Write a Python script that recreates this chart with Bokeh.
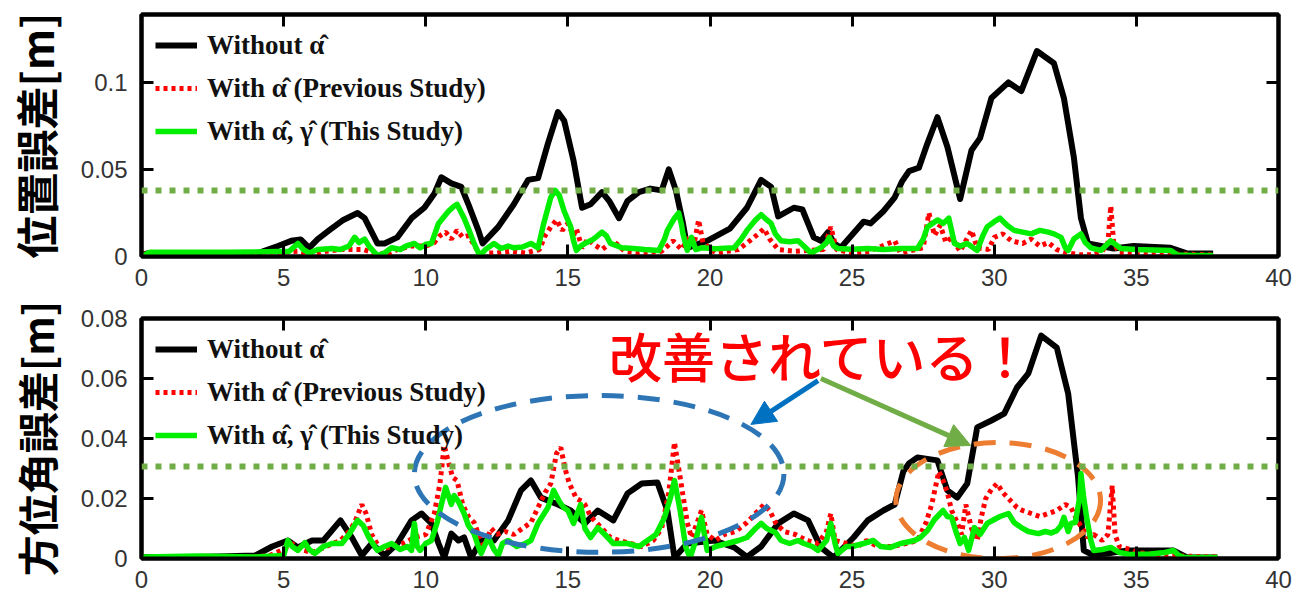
from bokeh.plotting import figure
from bokeh.layouts import column
from bokeh.models import (Range1d, FixedTicker, LinearAxis, Span, Arrow, NormalHead,
                          BoxAnnotation)
from bokeh.core.properties import value
from bokeh.embed import file_html
from bokeh.resources import INLINE

# ---------------- data ----------------
x_ticks = [0, 5, 10, 15, 20, 25, 30, 35, 40]
top_y_ticks = [0, 0.05, 0.1]
top_y_labels = {0: "0", 0.05: "0.05", 0.1: "0.1"}
bot_y_ticks = [0, 0.02, 0.04, 0.06, 0.08]
bot_y_labels = {0: "0", 0.02: "0.02", 0.04: "0.04", 0.06: "0.06", 0.08: "0.08"}

label_without = "Without \u03b1\u0302"
label_prev = "With \u03b1\u0302 (Previous Study)"
label_this = "With \u03b1\u0302, \u03b3\u0302 (This Study)"

top_ylabel = "位置誤差[m]"
bot_ylabel = "方位角誤差[m]"
note_text = "改善されている！"

top_threshold = 0.0379
bot_threshold = 0.0307

# position error: without alpha
pos_black_x = [0, 0.3, 2, 4.1, 4.8, 5.27, 5.6, 5.9, 6.2, 6.6, 7.1, 7.6, 7.85, 8.3, 8.55, 9.0, 9.5, 9.95,
               10.3, 10.55, 10.9, 11.25, 11.5, 11.85, 12.0, 12.55, 13.1, 13.6, 13.95, 14.3, 14.65, 14.87,
               15.2, 15.5, 15.8, 16.2, 16.45, 16.8, 17.1, 17.5, 17.9, 18.3, 18.55, 18.8, 19.05, 19.2,
               19.9, 20.7, 21.3, 21.8, 22.15, 22.4, 22.95, 23.25, 23.65, 23.9, 24.15, 24.37, 24.6, 25.4,
               25.65, 26.1, 26.5, 26.75, 27.0, 27.35, 27.65, 28.0, 28.35, 28.8, 29.2, 29.5, 29.9, 30.5,
               30.95, 31.5, 32.1, 32.45, 32.8, 33.05, 33.3, 34.2, 34.9, 36.2, 36.8, 37.7]
pos_black_y = [0.001, 0.002, 0.002, 0.002, 0.006, 0.009, 0.0098, 0.005, 0.010, 0.015, 0.021, 0.025, 0.022,
               0.0075, 0.0075, 0.011, 0.022, 0.028, 0.036, 0.0455, 0.042, 0.040, 0.030, 0.015, 0.0075,
               0.017, 0.030, 0.044, 0.045, 0.065, 0.083, 0.078, 0.055, 0.028, 0.030, 0.037, 0.032, 0.022,
               0.032, 0.037, 0.039, 0.038, 0.050, 0.038, 0.019, 0.005, 0.009, 0.016, 0.028, 0.044, 0.040,
               0.023, 0.028, 0.027, 0.011, 0.009, 0.014, 0.0075, 0.005, 0.020, 0.019, 0.026, 0.034, 0.043,
               0.049, 0.051, 0.065, 0.080, 0.063, 0.033, 0.061, 0.068, 0.091, 0.100, 0.095, 0.118, 0.111,
               0.091, 0.057, 0.022, 0.0075, 0.0046, 0.006, 0.005, 0.0017, 0.0017]

# position error: with alpha (previous study)
pos_red_x = [0, 4, 5.5, 6, 6.5, 7, 7.8, 8.2, 8.6, 9, 9.5, 10, 10.3, 10.5, 10.7, 10.9, 11.1, 11.3, 11.5,
             11.8, 12.1, 12.5, 13, 13.5, 14.0, 14.2, 14.4, 14.6, 14.8, 15.0, 15.2, 15.3, 15.5, 15.7, 15.9,
             16.2, 16.6, 17.0, 17.5, 18.3, 18.7, 19.0, 19.3, 19.45, 19.6, 19.75, 20.2, 21.0, 21.4, 21.7,
             21.9, 22.1, 22.4, 23, 24.0, 24.25, 24.45, 25, 25.6, 26.5, 26.7, 27.5, 27.7, 27.9, 28.1, 28.3,
             28.5, 28.8, 29.2, 29.4, 29.8, 30.0, 30.3, 30.6, 31.0, 31.3, 31.6, 31.9, 32.2, 32.6, 33.0,
             33.5, 33.8, 34.0, 34.1, 34.2, 34.4, 35, 36, 37.7]
pos_red_y = [0.0015, 0.0015, 0.003, 0.001, 0.003, 0.004, 0.004, 0.002, 0.001, 0.004, 0.006, 0.006, 0.008,
             0.012, 0.014, 0.010, 0.015, 0.011, 0.012, 0.004, 0.002, 0.002, 0.003, 0.002, 0.004, 0.012,
             0.017, 0.021, 0.015, 0.019, 0.012, 0.016, 0.005, 0.010, 0.007, 0.004, 0.009, 0.003, 0.002,
             0.003, 0.009, 0.004, 0.012, 0.008, 0.021, 0.008, 0.002, 0.004, 0.009, 0.013, 0.016, 0.010,
             0.004, 0.003, 0.004, 0.017, 0.004, 0.002, 0.003, 0.009, 0.002, 0.005, 0.025, 0.012, 0.018,
             0.008, 0.011, 0.003, 0.015, 0.005, 0.004, 0.011, 0.013, 0.009, 0.0075, 0.010, 0.006, 0.008,
             0.004, 0.002, 0.001, 0.001, 0.003, 0.008, 0.029, 0.008, 0.002, 0.0015, 0.0015, 0.001]

# position error: with alpha, gamma (this study)
pos_green_x = [0, 0.3, 1, 2, 3, 4, 5.2, 5.5, 5.7, 5.9, 6.2, 6.7, 7.0, 7.3, 7.5, 7.65, 7.85, 8.0, 8.3, 8.55,
               8.8, 9.1, 9.3, 9.6, 9.8, 10.0, 10.2, 10.45, 10.8, 11.0, 11.1, 11.35, 11.55, 11.7, 11.9,
               12.1, 12.4, 12.65, 12.9, 13.1, 13.4, 13.7, 13.95, 14.15, 14.4, 14.55, 14.7, 14.87, 15.1,
               15.2, 15.3, 15.45, 15.6, 15.9, 16.2, 16.35, 16.5, 16.9, 17.3, 17.7, 18.2, 18.4, 18.5, 18.75,
               18.9, 19.0, 19.05, 19.2, 19.35, 19.5, 19.7, 20.2, 20.85, 21.1, 21.3, 21.6, 21.8, 22.0, 22.15,
               22.3, 22.5, 22.8, 23.1, 23.3, 23.55, 23.9, 24.1, 24.2, 24.35, 24.5, 25.0, 25.55, 26.1, 26.7,
               27.3, 27.5, 27.65, 28.0, 28.2, 28.4, 28.6, 28.8, 29.05, 29.4, 29.6, 29.75, 30.0, 30.2, 30.45,
               30.7, 31.0, 31.3, 31.6, 31.9, 32.1, 32.35, 32.5, 32.6, 32.8, 33.05, 33.2, 33.4, 33.75, 34.1,
               34.45, 35.0, 35.6, 36.2, 36.45, 37.0, 37.7]
pos_green_y = [0.0, 0.0025, 0.0025, 0.0025, 0.0025, 0.0026, 0.003, 0.0075, 0.004, 0.002, 0.004, 0.0046,
               0.004, 0.006, 0.011, 0.008, 0.010, 0.006, 0.0005, 0.002, 0.005, 0.004, 0.006, 0.0075, 0.005,
               0.007, 0.0075, 0.019, 0.026, 0.029, 0.030, 0.022, 0.014, 0.0075, 0.0005, 0.004, 0.0075,
               0.0046, 0.006, 0.005, 0.0055, 0.0075, 0.005, 0.019, 0.034, 0.038, 0.035, 0.026, 0.017, 0.009,
               0.0035, 0.006, 0.0075, 0.010, 0.014, 0.012, 0.0075, 0.005, 0.0046, 0.004, 0.0035, 0.010,
               0.015, 0.022, 0.025, 0.018, 0.013, 0.0035, 0.011, 0.004, 0.005, 0.0045, 0.005, 0.010, 0.015,
               0.021, 0.024, 0.021, 0.019, 0.013, 0.009, 0.0085, 0.009, 0.006, 0.002, 0.005, 0.008, 0.011,
               0.006, 0.0046, 0.0042, 0.0046, 0.004, 0.0046, 0.0046, 0.010, 0.017, 0.021, 0.019, 0.022,
               0.0075, 0.006, 0.0075, 0.0035, 0.012, 0.017, 0.020, 0.022, 0.018, 0.015, 0.014, 0.013, 0.015,
               0.014, 0.013, 0.011, 0.005, 0.0035, 0.010, 0.013, 0.008, 0.005, 0.0035, 0.009, 0.0046,
               0.004, 0.0038, 0.0035, 0.0008, 0.0006, 0.0006]

# heading error: without alpha
hd_black_x = [0, 2, 4.0, 4.6, 5.15, 5.5, 6.0, 6.4, 7.0, 7.4, 7.75, 8.1, 8.55, 9.0, 9.5, 9.85, 10.2, 10.45,
              10.65, 10.9, 11.15, 11.35, 11.6, 11.95, 12.4, 12.9, 13.35, 13.7, 14.05, 14.65, 15.1, 15.6,
              16.05, 16.6, 17.1, 17.6, 18.15, 18.5, 18.75, 19.2, 20.15, 20.85, 21.3, 21.8, 22.4, 22.95,
              23.45, 23.9, 24.35, 25.05, 25.55, 26.1, 26.5, 26.8, 27.0, 27.3, 28.0, 28.35, 28.7, 29.05,
              29.4, 29.9, 30.35, 30.8, 31.2, 31.65, 32.2, 32.6, 32.95, 33.15, 33.5, 34.7, 36.3, 36.8, 37.85]
hd_black_y = [0.0005, 0.0005, 0.001, 0.004, 0.006, 0.0037, 0.006, 0.006, 0.0127, 0.007, 0.001, 0.005,
              0.001, 0.005, 0.0127, 0.015, 0.0117, 0.005, 0.0003, 0.0083, 0.006, 0.007, 0.0003, 0.006,
              0.006, 0.0127, 0.0227, 0.026, 0.0203, 0.018, 0.016, 0.0117, 0.016, 0.0127, 0.0217, 0.025,
              0.0253, 0.016, 0.0003, 0.005, 0.006, 0.0037, 0.0005, 0.004, 0.0117, 0.015, 0.0127, 0.0037,
              0.0003, 0.007, 0.0127, 0.016, 0.018, 0.029, 0.0317, 0.0337, 0.0327, 0.0227, 0.0203, 0.025,
              0.0437, 0.046, 0.0483, 0.057, 0.0617, 0.0743, 0.0703, 0.055, 0.027, 0.0027, 0.001, 0.0027,
              0.0027, 0.0003, 0.0003]

# heading error: with alpha (previous study)
hd_red_x = [0, 4, 4.5, 5.0, 5.3, 5.6, 6.0, 6.5, 7.0, 7.3, 7.5, 7.75, 7.9, 8.1, 8.4, 8.8, 9.2, 9.6, 10.0,
            10.3, 10.5, 10.65, 10.8, 10.95, 11.1, 11.3, 11.5, 11.7, 11.9, 12.05, 12.3, 12.5, 12.8, 13.1,
            13.4, 13.7, 14.0, 14.2, 14.4, 14.6, 14.75, 14.9, 15.05, 15.3, 15.5, 15.6, 15.8, 16.0, 16.2,
            16.5, 16.8, 17.2, 17.6, 18.0, 18.3, 18.55, 18.75, 18.9, 19.0, 19.2, 19.35, 19.55, 19.7, 19.9,
            20.2, 20.5, 20.9, 21.3, 21.6, 21.9, 22.1, 22.3, 22.6, 23.0, 23.4, 23.8, 24.1, 24.25, 24.4,
            24.8, 25.2, 25.5, 25.9, 26.4, 26.9, 27.3, 27.6, 27.8, 28.05, 28.2, 28.35, 28.5, 28.7, 28.85,
            29.0, 29.2, 29.4, 29.55, 29.7, 29.9, 30.1, 30.3, 30.5, 30.8, 31.0, 31.3, 31.6, 31.9, 32.2,
            32.5, 32.7, 32.9, 33.1, 33.3, 33.5, 33.8, 34.0, 34.15, 34.25, 34.4, 34.8, 35.0, 35.5, 36, 37.85]
hd_red_y = [0.0005, 0.0005, 0.001, 0.003, 0.005, 0.003, 0.002, 0.004, 0.006, 0.009, 0.012, 0.018, 0.015,
            0.008, 0.003, 0.004, 0.005, 0.007, 0.008, 0.015, 0.025, 0.0377, 0.032, 0.027, 0.026, 0.018,
            0.014, 0.012, 0.007, 0.004, 0.010, 0.008, 0.009, 0.008, 0.010, 0.012, 0.018, 0.022, 0.025,
            0.035, 0.037, 0.030, 0.025, 0.020, 0.019, 0.018, 0.014, 0.012, 0.010, 0.007, 0.006, 0.005,
            0.004, 0.006, 0.010, 0.022, 0.0387, 0.030, 0.024, 0.012, 0.007, 0.012, 0.016, 0.008, 0.006,
            0.008, 0.009, 0.012, 0.015, 0.018, 0.016, 0.012, 0.009, 0.008, 0.006, 0.005, 0.009, 0.015,
            0.006, 0.005, 0.004, 0.006, 0.004, 0.004, 0.005, 0.006, 0.012, 0.018, 0.029, 0.026, 0.022,
            0.016, 0.012, 0.008, 0.018, 0.010, 0.006, 0.014, 0.020, 0.023, 0.025, 0.022, 0.020, 0.017,
            0.016, 0.015, 0.014, 0.015, 0.016, 0.018, 0.017, 0.013, 0.010, 0.007, 0.008, 0.006, 0.008,
            0.0243, 0.008, 0.004, 0.003, 0.002, 0.0015, 0.001, 0.0005]

# heading error: with alpha, gamma (this study)
hd_green_x = [0, 2, 4, 5.0, 5.15, 5.3, 5.5, 5.75, 5.9, 6.1, 6.4, 6.7, 7.05, 7.3, 7.6, 7.8, 8.0, 8.3, 8.55,
              8.8, 9.1, 9.35, 9.5, 9.6, 9.7, 9.8, 10.0, 10.2, 10.4, 10.55, 10.7, 10.9, 11.0, 11.15, 11.35,
              11.5, 11.7, 11.85, 11.95, 12.2, 12.4, 12.55, 12.7, 12.9, 13.2, 13.5, 13.7, 13.95, 14.3, 14.5,
              14.7, 14.85, 15.0, 15.2, 15.45, 15.6, 15.8, 16.05, 16.3, 16.6, 17.1, 17.5, 17.8, 18.1, 18.4,
              18.6, 18.75, 18.95, 19.15, 19.3, 19.5, 19.7, 19.9, 20.2, 20.6, 21.0, 21.3, 21.6, 21.8, 22.0,
              22.3, 22.5, 22.8, 23.1, 23.3, 23.6, 23.8, 24.1, 24.25, 24.4, 24.5, 24.8, 25.0, 25.4, 25.75,
              26.0, 26.35, 26.7, 27.2, 27.4, 27.65, 27.9, 28.2, 28.35, 28.5, 28.65, 28.8, 28.95, 29.1, 29.3,
              29.5, 29.75, 30.0, 30.2, 30.5, 30.7, 30.95, 31.2, 31.55, 31.8, 32.0, 32.2, 32.35, 32.45, 32.6,
              32.7, 32.85, 33.0, 33.05, 33.15, 33.25, 33.4, 33.5, 33.8, 34.1, 34.4, 34.8, 35.5, 36.0, 36.3,
              36.5, 36.7, 37.85]
hd_green_y = [0.0005, 0.0008, 0.0005, 0.001, 0.006, 0.004, 0.0027, 0.0053, 0.003, 0.0017, 0.004, 0.005,
              0.005, 0.008, 0.0127, 0.011, 0.007, 0.0027, 0.004, 0.005, 0.003, 0.004, 0.0027, 0.0117, 0.004,
              0.0027, 0.005, 0.006, 0.012, 0.018, 0.0237, 0.018, 0.021, 0.019, 0.015, 0.011, 0.0083, 0.004,
              0.0017, 0.007, 0.003, 0.001, 0.005, 0.006, 0.004, 0.005, 0.006, 0.0117, 0.017, 0.0227, 0.019,
              0.017, 0.016, 0.0117, 0.018, 0.010, 0.007, 0.0103, 0.008, 0.005, 0.005, 0.004, 0.006, 0.008,
              0.0137, 0.020, 0.026, 0.016, 0.0037, 0.0003, 0.006, 0.0137, 0.0027, 0.004, 0.005, 0.006,
              0.007, 0.010, 0.0117, 0.010, 0.0087, 0.006, 0.005, 0.006, 0.005, 0.004, 0.0027, 0.006, 0.0117,
              0.005, 0.0017, 0.004, 0.004, 0.005, 0.006, 0.004, 0.0037, 0.005, 0.006, 0.007, 0.0093, 0.013,
              0.016, 0.014, 0.0137, 0.009, 0.005, 0.007, 0.0027, 0.0103, 0.008, 0.0117, 0.013, 0.014, 0.015,
              0.012, 0.0103, 0.009, 0.0083, 0.009, 0.0085, 0.0093, 0.011, 0.0137, 0.009, 0.0117, 0.012,
              0.020, 0.0283, 0.020, 0.0137, 0.006, 0.0027, 0.003, 0.0037, 0.002, 0.0013, 0.0015, 0.002,
              0.0027, 0.001, 0.0003, 0.0003]

# annotation geometry (data units)
blue_ellipse = dict(x=16.1, y=0.0282, w=13.0, h=0.0523)
orange_ellipse = dict(x=30.14, y=0.0193, w=7.2, h=0.0387)
note_pos = (16.45, 0.0677)
blue_arrow = (23.8, 0.0593, 21.44, 0.0447)
green_arrow = (23.9, 0.0600, 29.17, 0.0377)

BLACK = "#000000"
RED = "#FF0000"
GREEN = "#00EE00"
TICK_COLOR = "#333333"


def base_fig(height, ymax, yticks, ylabels, ylabel, label_size, bt, bb):
    p = figure(width=1296, height=height, x_range=Range1d(0, 40), y_range=Range1d(0, ymax),
               output_backend="svg", toolbar_location=None,
               min_border_left=140, min_border_right=18, min_border_top=bt, min_border_bottom=bb)
    p.grid.visible = False
    p.outline_line_color = BLACK
    p.outline_line_width = 4
    p.background_fill_color = "white"
    p.border_fill_color = "white"
    for ax in (p.xaxis[0], p.yaxis[0]):
        ax.axis_line_width = 4
        ax.axis_line_color = BLACK
        ax.major_tick_in = 12
        ax.major_tick_out = 0
        ax.major_tick_line_width = 3
        ax.major_tick_line_color = BLACK
        ax.minor_tick_line_color = None
        ax.major_label_text_font = "Liberation Sans"
        ax.major_label_text_font_size = "24px"
        ax.major_label_text_color = TICK_COLOR
    p.xaxis.ticker = FixedTicker(ticks=x_ticks)
    p.xaxis.major_label_standoff = 12
    p.yaxis.ticker = FixedTicker(ticks=yticks)
    p.yaxis.major_label_overrides = ylabels
    p.yaxis.major_label_standoff = 14
    p.yaxis.axis_label = ylabel
    p.yaxis.axis_label_text_font = "Noto Sans CJK JP"
    p.yaxis.axis_label_text_font_style = "bold"
    p.yaxis.axis_label_text_font_size = label_size
    p.yaxis.axis_label_text_color = BLACK
    p.yaxis.axis_label_standoff = 12
    common = dict(major_tick_in=12, major_tick_out=0, major_tick_line_width=3, axis_line_width=4,
                  minor_tick_line_color=None, major_label_text_font_size="0px",
                  major_label_text_color=None, major_label_standoff=0)
    p.add_layout(LinearAxis(ticker=FixedTicker(ticks=x_ticks), **common), "above")
    p.add_layout(LinearAxis(ticker=FixedTicker(ticks=yticks), **common), "right")
    return p


def add_series(p, bx, by, rx, ry, gx, gy, thr):
    p.line(bx, by, line_color=BLACK, line_width=6, legend_label=label_without, line_join="round")
    p.line(rx, ry, line_color=RED, line_width=5, line_dash="4 4", legend_label=label_prev)
    p.line(gx, gy, line_color=GREEN, line_width=5.5, legend_label=label_this, line_join="round")
    p.add_layout(Span(location=thr, dimension="width", line_color="#70AD47", line_width=6,
                      line_dash="6 8"))
    lg = p.legend[0]
    lg.location = "top_left"
    lg.border_line_alpha = 0
    lg.background_fill_alpha = 0
    lg.label_text_font = "Liberation Serif"
    lg.label_text_font_style = "bold"
    lg.label_text_font_size = "27px"
    lg.label_text_color = "#111111"
    lg.glyph_width = 42
    lg.glyph_height = 34
    lg.label_height = 34
    lg.spacing = 9
    lg.padding = 4
    lg.margin = 10
    lg.label_standoff = 10


def side_box(p, top, bottom):
    # decorative green box partly outside the right edge (frame-relative screen units)
    p.add_layout(BoxAnnotation(left=1149, right=1300, top=top, bottom=bottom, left_units="screen",
                               right_units="screen", top_units="screen", bottom_units="screen",
                               fill_alpha=0, line_color="#00B050", line_width=2))


p1 = base_fig(296, 0.139, top_y_ticks, top_y_labels, top_ylabel, "43px", 14, 40)
add_series(p1, pos_black_x, pos_black_y, pos_red_x, pos_red_y, pos_green_x, pos_green_y, top_threshold)
side_box(p1, 163, -2)

p2 = base_fig(299, 0.08, bot_y_ticks, bot_y_labels, bot_ylabel, "41px", 22, 37)
add_series(p2, hd_black_x, hd_black_y, hd_red_x, hd_red_y, hd_green_x, hd_green_y, bot_threshold)

p2.ellipse(x=[blue_ellipse["x"]], y=[blue_ellipse["y"]], width=blue_ellipse["w"], height=blue_ellipse["h"],
           fill_alpha=0, line_color="#2E75B6", line_width=5, line_dash="22 14")
p2.ellipse(x=[orange_ellipse["x"]], y=[orange_ellipse["y"]], width=orange_ellipse["w"],
           height=orange_ellipse["h"], fill_alpha=0, line_color="#ED7D31", line_width=5, line_dash="22 14")
p2.text(x=[note_pos[0]], y=[note_pos[1]], text=[note_text], text_font=value("Noto Sans CJK JP Medium"),
        text_font_size="53px", text_color=RED, text_baseline="middle", text_align="left")
p2.add_layout(Arrow(x_start=blue_arrow[0], y_start=blue_arrow[1], x_end=blue_arrow[2], y_end=blue_arrow[3],
                    line_color="#0070C0", line_width=5,
                    end=NormalHead(size=24, fill_color="#0070C0", line_color="#0070C0")))
p2.add_layout(Arrow(x_start=green_arrow[0], y_start=green_arrow[1], x_end=green_arrow[2], y_end=green_arrow[3],
                    line_color="#70AD47", line_width=5,
                    end=NormalHead(size=24, fill_color="#70AD47", line_color="#70AD47")))
side_box(p2, 261, 18)

layout = column(p1, p2, spacing=0)
open("out.html", "w").write(file_html(layout, INLINE))
